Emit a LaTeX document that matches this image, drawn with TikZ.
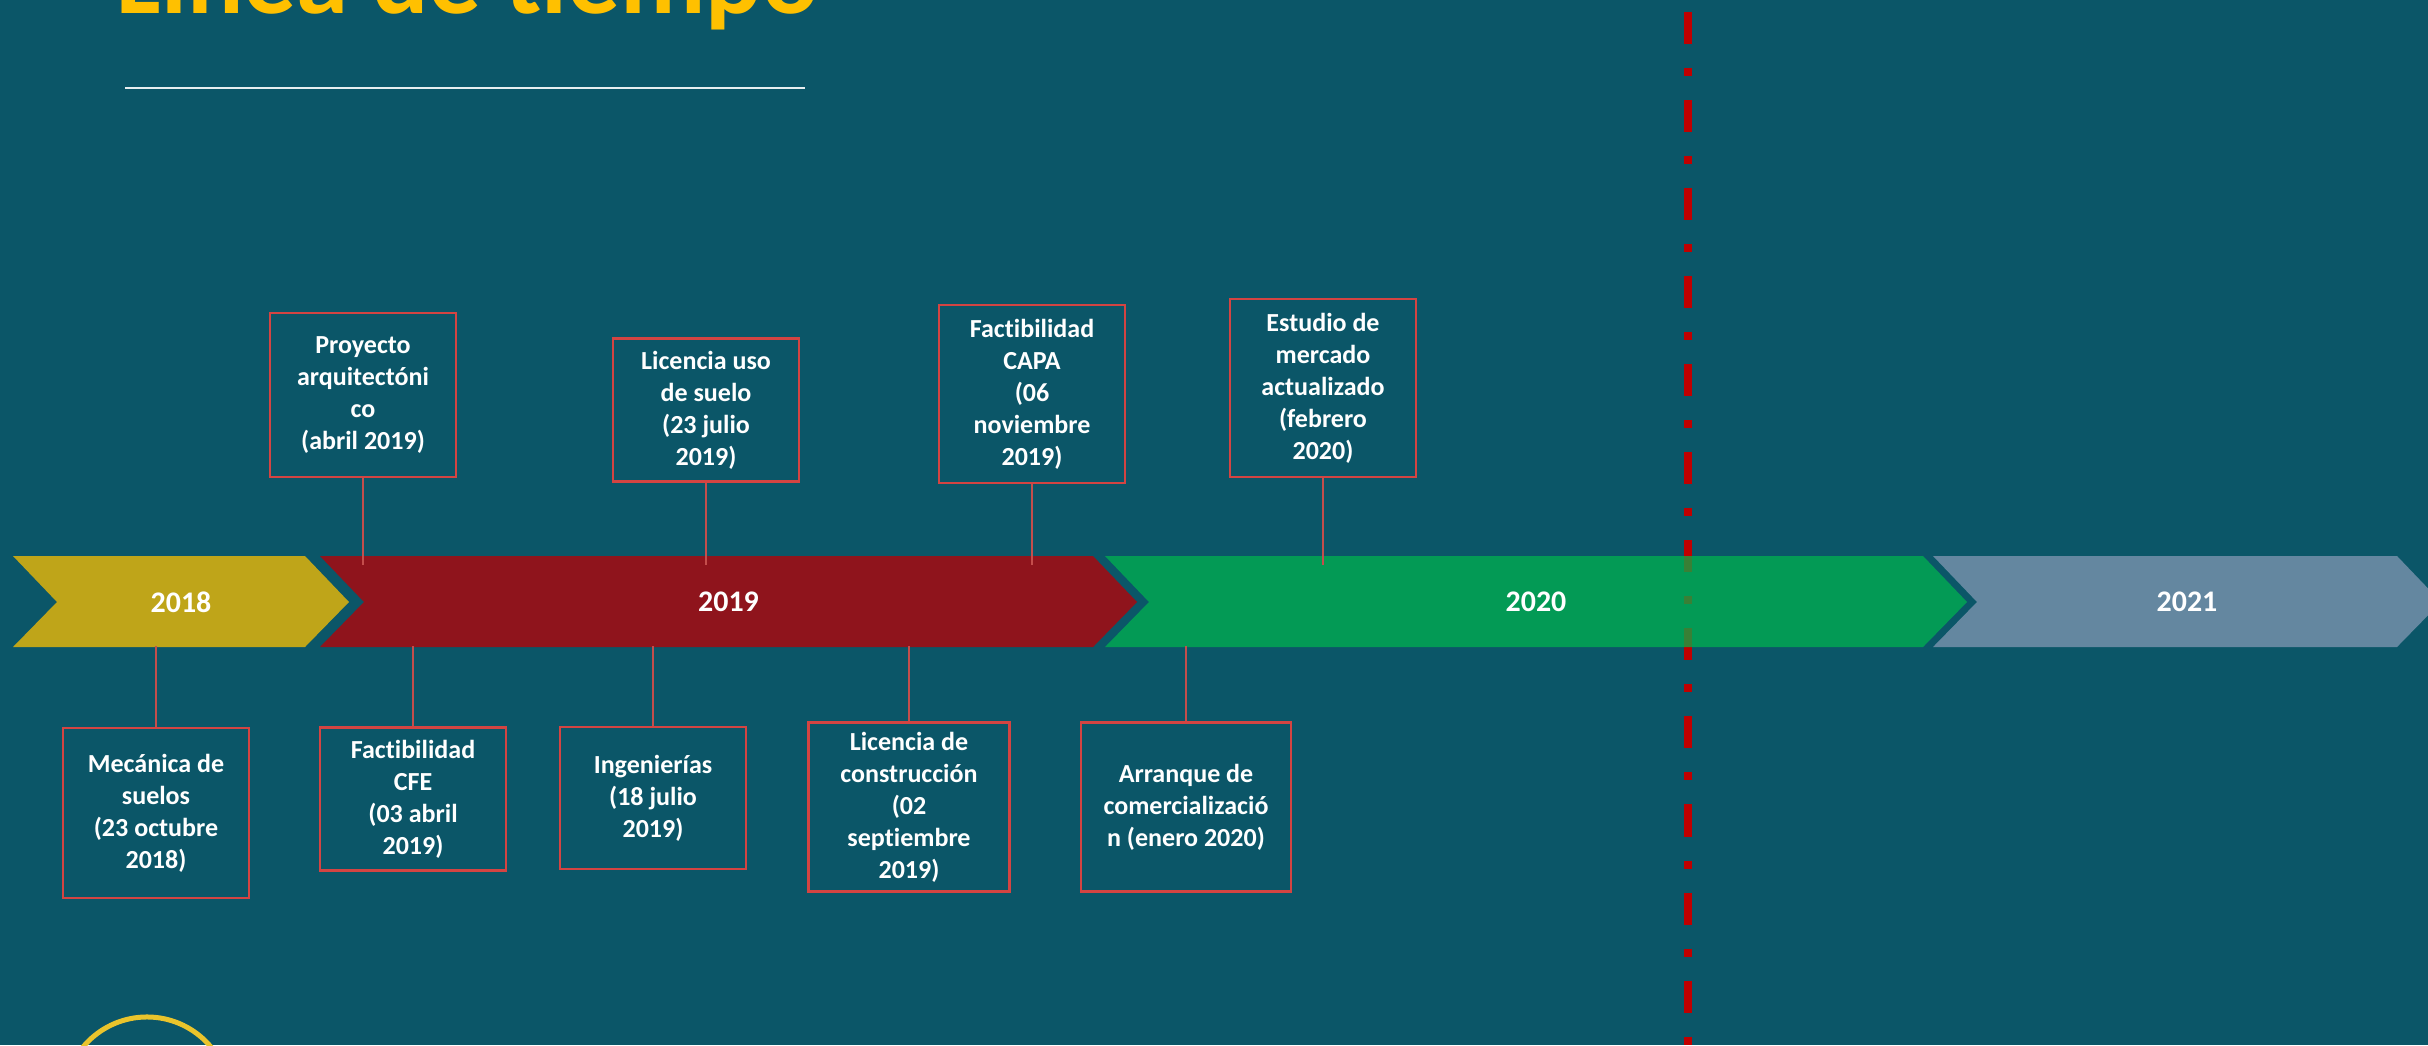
\documentclass[tikz,border=0pt]{standalone}
\usepackage{fontspec}
\setmainfont{Carlito}[Ligatures=NoCommon]
\usepackage{tikz}
\usetikzlibrary{calc}
\definecolor{bg}{RGB}{11,86,104}
\definecolor{titleyellow}{RGB}{255,192,0}
\definecolor{bar18}{RGB}{191,165,25}
\definecolor{bar19}{RGB}{143,20,28}
\definecolor{bar20}{RGB}{0,183,78}
\definecolor{bar21}{RGB}{100,135,160}
\definecolor{boxred}{RGB}{212,68,66}
\definecolor{linkred}{RGB}{196,78,76}
\definecolor{cutred}{RGB}{192,0,0}
\definecolor{ringyellow}{RGB}{234,196,44}
\tikzset{
	event/.style={
		draw=boxred,
		line width=0.025cm,
		align=center,
		text=white,
		inner sep=0pt,
		minimum width=1.86cm,
		font=\fontsize{7.4}{9.1}\selectfont\bfseries
	},
	year/.style={text=white, font=\fontsize{8.5}{10}\selectfont\bfseries},
	link/.style={draw=linkred, line width=0.015cm}
}
% name, left x, right x, colour, label
\newcommand{\yearbar}[5]{%
	\fill[#4] (#2,556) -- (#3,556) -- ++(44,46) -- ++(-44,45) -- (#2,647) -- ++(44,-45) -- cycle;
	\node[year] (#1) at ({(#2+#3+44)/2},602) {#5};
}

\begin{document}
\begin{tikzpicture}[x=0.01cm, y=-0.01cm]
	\fill[bg] (0,0) rectangle (2428,1045);
	\useasboundingbox (0,0) rectangle (2428,1045);
	
	\node[anchor=base west, inner sep=0pt, text=titleyellow, font=\fontsize{29.9}{36}\selectfont\bfseries] (title) at (116,13) {Línea de tiempo};
	\draw[white!90!bg, line width=0.02cm] (125,88) -- (805,88);
	
	% cut line, behind the bars
	\draw[cutred, line width=0.08cm, dash pattern=on 0.32cm off 0.24cm on 0.08cm off 0.24cm] (1688,12) -- (1688,1045);
	
	\yearbar{y2018}{13}{305}{bar18}{2018}
	\yearbar{y2019}{320}{1093}{bar19}{2019}
	\yearbar{y2020}{1105}{1923}{bar20, fill opacity=0.7}{2020}
	\yearbar{y2021}{1933}{2397}{bar21}{2021}
	
	\coordinate (bartop) at (0,565);
	\coordinate (barbot) at (0,646);
	
	\node[event, minimum height=1.64cm] (proyecto) at (363,395) {Proyecto\\arquitectóni\\co\\(abril 2019)};
	\node[event, minimum height=1.43cm] (suelo) at (706,410) {Licencia uso\\de suelo\\(23 julio\\2019)};
	\node[event, minimum height=1.78cm] (capa) at (1032,394) {Factibilidad\\CAPA\\(06\\noviembre\\2019)};
	\node[event, minimum height=1.78cm] (mercado) at (1323,388) {Estudio de\\mercado\\actualizado\\(febrero\\2020)};
	\draw[link] (proyecto) -- (proyecto |- bartop);
	\draw[link] (suelo) -- (suelo |- bartop);
	\draw[link] (capa) -- (capa |- bartop);
	\draw[link] (mercado) -- (mercado |- bartop);
	
	\node[event, minimum height=1.70cm] (mecanica) at (156,813) {Mecánica de\\suelos\\(23 octubre\\2018)};
	\node[event, minimum height=1.43cm] (cfe) at (413,799) {Factibilidad\\CFE\\(03 abril\\2019)};
	\node[event, minimum height=1.42cm] (ing) at (653,798) {Ingenierías\\(18 julio\\2019)};
	\node[event, minimum width=2.01cm, minimum height=1.69cm] (constr) at (909,807) {Licencia de\\construcción\\(02\\septiembre\\2019)};
	\node[event, minimum width=2.10cm, minimum height=1.69cm] (arranque) at (1186,807) {Arranque de\\comercializació\\n (enero 2020)};
	\draw[link] (mecanica) -- (mecanica |- barbot);
	\draw[link] (cfe) -- (cfe |- barbot);
	\draw[link] (ing) -- (ing |- barbot);
	\draw[link] (constr) -- (constr |- barbot);
	\draw[link] (arranque) -- (arranque |- barbot);
	
	\draw[ringyellow, line width=0.05cm] (147,1100) circle (0.83cm);
\end{tikzpicture}
\end{document}
